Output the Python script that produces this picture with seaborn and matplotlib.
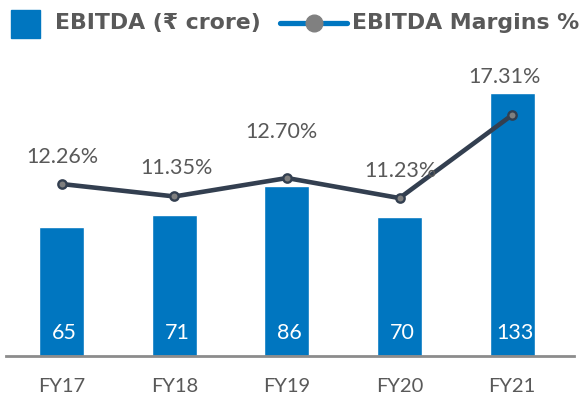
import numpy as np
import pandas as pd
import matplotlib
matplotlib.use("Agg")
import matplotlib.pyplot as plt
from matplotlib.patches import Rectangle
from matplotlib.lines import Line2D
import seaborn as sns

# ---- data ----
years = ["FY17", "FY18", "FY19", "FY20", "FY21"]
ebitda = [65, 71, 86, 70, 133]
margins = [12.26, 11.35, 12.70, 11.23, 17.31]

# label offsets (pixels) for the margin labels: (dx, dy)
pct_offsets = [(0, 27), (2, 28), (-6, 46), (1, 27), (-8, 38)]

BAR = "#0076C0"
LINE = "#333F50"
TXT = "#595959"

sns.set_theme(style="white")
plt.rcParams["font.family"] = ["Lato", "DejaVu Sans"]

DPI = 100
fig = plt.figure(figsize=(5.85, 4.0), dpi=DPI)
W, H = 585, 400
left_px, right_px = 5.6, 574
bottom_px, top_px = 356, 60
ax = fig.add_axes([left_px / W, (H - bottom_px) / H,
                   (right_px - left_px) / W, (bottom_px - top_px) / H])

df = pd.DataFrame({"year": years, "ebitda": ebitda, "margin": margins})
sns.barplot(data=df, x="year", y="ebitda", color=BAR, width=0.4,
            saturation=1, ax=ax, zorder=2)
ax.set_xlim(-0.5, 4.55)
ax.set_ylim(0, 149.5)
ax.set_xlabel("")
ax.set_ylabel("")
ax.set_yticks([])
ax.tick_params(axis="x", length=0, pad=16, labelsize=14.5, labelcolor=TXT)
for s in ["top", "left", "right"]:
    ax.spines[s].set_visible(False)
ax.spines["bottom"].set_color("#8C8C8C")
ax.spines["bottom"].set_linewidth(2)
ax.spines["bottom"].set_zorder(5)

for i, v in enumerate(ebitda):
    ax.annotate(f"{v}", (i, 0), xytext=(2, 23 * 0.72), textcoords="offset points",
                ha="center", va="center", color="white", fontsize=15.5)

ax2 = ax.twinx()
xpos = np.arange(len(years))
sns.lineplot(x=xpos, y=margins, ax=ax2, color=LINE, linewidth=3.3,
             marker="o", markersize=6, markerfacecolor="#7F7F7F",
             markeredgecolor=LINE, markeredgewidth=1.7, zorder=3)
ax2.set_ylim(-0.33, 21.34)
ax2.set_yticks([])
ax2.set_ylabel("")
for s in ["top", "left", "right", "bottom"]:
    ax2.spines[s].set_visible(False)

for i, m in enumerate(margins):
    dx, dy = pct_offsets[i]
    ax2.annotate(f"{m:.2f}%", (i, m), xytext=(dx * 0.72, dy * 0.72),
                 textcoords="offset points", ha="center", va="center",
                 color=TXT, fontsize=15.5)

# ---- legend (manual) ----
def fx(px):
    return px / W

def fy(py):
    return (H - py) / H

fig.patches.append(Rectangle((fx(11), fy(38)), 29 / W, 28 / H,
                             transform=fig.transFigure, color=BAR))
fig.text(fx(55), fy(29), "EBITDA (₹ crore)", fontsize=15.8, fontweight="bold",
         color=TXT, family=["DejaVu Sans", "Noto Sans"], va="baseline", ha="left")
fig.lines.append(Line2D([fx(280), fx(347)], [fy(23), fy(23)],
                        transform=fig.transFigure, color=BAR, linewidth=3.8))
fig.lines.append(Line2D([fx(313.5)], [fy(23)], transform=fig.transFigure,
                        marker="o", markersize=12, color="#808080",
                        markeredgecolor="#808080", linestyle="none"))
fig.text(fx(352), fy(29), "EBITDA Margins %", fontsize=15.8, fontweight="bold",
         color=TXT, family=["DejaVu Sans", "Noto Sans"], va="baseline", ha="left")

fig.savefig("out.png", dpi=DPI)
